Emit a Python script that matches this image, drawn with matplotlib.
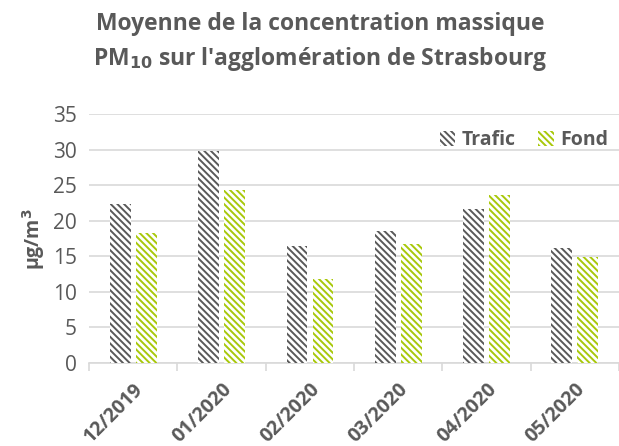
import numpy as np
import matplotlib
matplotlib.use("Agg")
import matplotlib.pyplot as plt

mois = ["12/2019", "01/2020", "02/2020", "03/2020", "04/2020", "05/2020"]
trafic = [22.4, 29.8, 16.4, 18.6, 21.6, 16.2]
fond = [18.3, 24.3, 11.8, 16.7, 23.6, 14.9]

gris = "#595959"
vert = "#a8c80a"
texte = "#595959"

plt.rcParams['font.family'] = ['Open Sans', 'DejaVu Sans']
plt.rcParams['hatch.linewidth'] = 1.4

fig = plt.figure(figsize=(6.19, 4.46), dpi=100)
ax = fig.add_axes([0.144, 0.186, 0.856, 0.558])

x = np.arange(len(mois))
w = 0.235
g = 0.06
ax.bar(x - (w + g) / 2, trafic, w, facecolor="white", edgecolor=gris,
       hatch="\\" * 5, linewidth=0, label="Trafic", zorder=3)
ax.bar(x + (w + g) / 2, fond, w, facecolor="white", edgecolor=vert,
       hatch="\\" * 5, linewidth=0, label="Fond", zorder=3)

ax.set_xlim(-0.5, len(mois) - 0.5)
ax.set_ylim(0, 35)
ax.set_yticks(range(0, 36, 5))
ax.yaxis.grid(True, color="#d9d9d9", linewidth=1.2, zorder=0)
ax.set_axisbelow(True)
for s in ["left", "right", "top"]:
    ax.spines[s].set_visible(False)
ax.spines["bottom"].set_color("#d9d9d9")
ax.spines["bottom"].set_linewidth(1.2)

ax.set_xticks(x)
ax.set_xticklabels(mois, rotation=45, ha="right", rotation_mode="anchor",
                   fontsize=14, fontweight="bold", color=texte)
ax.set_xticks(np.arange(-0.5, len(mois)), minor=True)
ax.tick_params(axis="x", which="major", length=0, pad=12)
ax.tick_params(axis="x", which="minor", length=6, color="#d9d9d9", width=1.2)
ax.tick_params(axis="y", length=0, labelsize=15, labelcolor=texte, pad=9)

ax.set_ylabel("µg/m$^\\mathbf{3}$", fontsize=14, fontweight="bold", color=texte, labelpad=4)

leg = ax.legend(loc="upper right", ncol=2, frameon=False, fontsize=14,
                handlelength=0.8, handleheight=0.8, handletextpad=0.3,
                columnspacing=1.2, bbox_to_anchor=(1.012, 1.005))
for t in leg.get_texts():
    t.set_color(texte)
    t.set_fontweight("bold")

fig.text(0.517, 0.972, "Moyenne de la concentration massique", ha="center", va="top",
         fontsize=16.5, fontweight="bold", color=texte)
fig.text(0.517, 0.898, "PM$_{\\mathbf{10}}$ sur l'agglomération de Strasbourg", ha="center", va="top",
         fontsize=16.5, fontweight="bold", color=texte)

fig.savefig("out.png", dpi=100)
